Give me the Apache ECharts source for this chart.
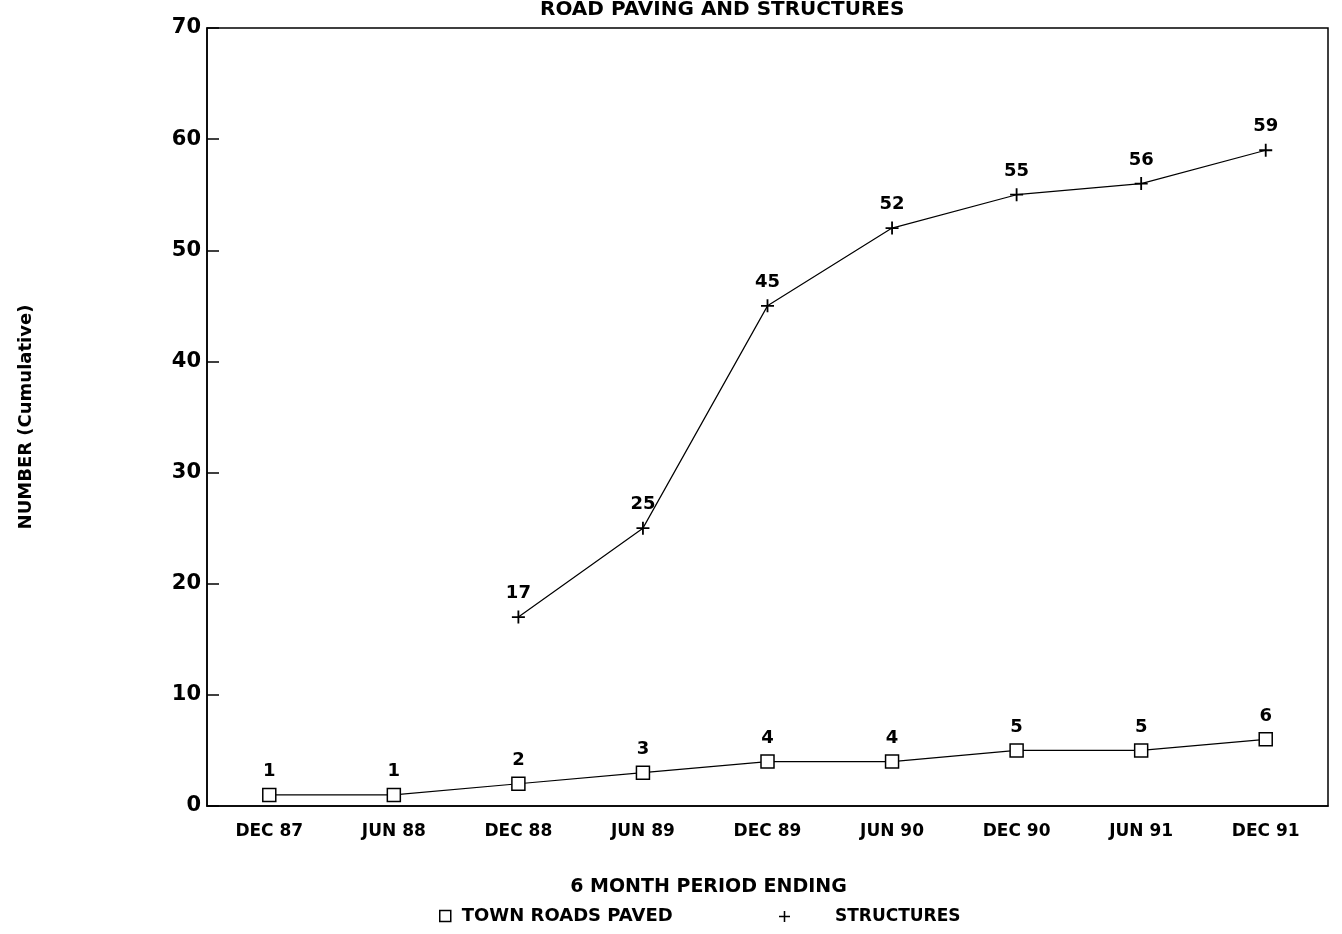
<!DOCTYPE html>
<html>
  <head>
    <meta charset="utf-8" />
    <title>Road Paving and Structures</title>
    <script src="https://cdn.jsdelivr.net/npm/echarts@6/dist/echarts.min.js"></script>
    <style>
      html, body { margin: 0; padding: 0; background: #fff; }
    </style>
  </head>
  <body>
    <div id="container" style="width: 1342px;height: 934px;"></div>

    <script type="text/javascript">
    // 数据
    var periods = ['DEC 87', 'JUN 88', 'DEC 88', 'JUN 89', 'DEC 89', 'JUN 90', 'DEC 90', 'JUN 91', 'DEC 91'];
    var townRoads = [1, 1, 2, 3, 4, 4, 5, 5, 6];
    var structures = [null, null, 17, 25, 45, 52, 55, 56, 59];
    var yTicks = ['0', '10', '20', '30', '40', '50', '60', '70'];

    var font = '"DejaVu Sans", "Liberation Sans", Arial, sans-serif';
    var plusSymbol = 'path://M4.3,0H5.7V4.3H10V5.7H5.7V10H4.3V5.7H0V4.3H4.3Z';

    var myChart = echarts.init(document.getElementById('container'));
    var option = {
        backgroundColor: '#fff',
        animation: false,
        textStyle: { fontFamily: font, color: '#000' },
        title: {
            text: 'ROAD PAVING AND STRUCTURES',
            left: 535,
            top: -5,
            textStyle: { fontSize: 20, fontWeight: 'bold', color: '#000', fontFamily: font }
        },
        grid: {
            left: 207,
            right: 14,
            top: 28,
            bottom: 128,
            show: true,
            borderColor: '#000',
            borderWidth: 1.5
        },
        // 图例（两个分开放置）
        legend: [
            {
                bottom: 4,
                left: 434,
                itemWidth: 11,
                itemHeight: 11,
                textStyle: { fontSize: 18, fontWeight: 'bold', color: '#000', fontFamily: font, padding: [0, 0, 0, 6] },
                data: [{ name: 'TOWN ROADS PAVED', icon: 'rect',
                         itemStyle: { color: '#fff', borderColor: '#000', borderWidth: 1.5 } }]
            },
            {
                bottom: 4,
                left: 774,
                itemWidth: 11,
                itemHeight: 11,
                textStyle: { fontSize: 17, fontWeight: 'bold', color: '#000', fontFamily: font, padding: [0, 0, 0, 40] },
                data: [{ name: 'STRUCTURES', icon: plusSymbol,
                         itemStyle: { color: '#000', borderWidth: 0 } }]
            }
        ],
        xAxis: {
            type: 'category',
            data: periods,
            boundaryGap: true,
            name: '6 MONTH PERIOD ENDING',
            nameLocation: 'middle',
            nameGap: 72,
            nameTextStyle: { fontSize: 19, fontWeight: 'bold', color: '#000', fontFamily: font, padding: [0, 118, 0, 0] },
            axisLine: { lineStyle: { color: '#000', width: 1.5 } },
            axisTick: { inside: true, alignWithLabel: true, length: 10, lineStyle: { color: '#000', width: 1.5 } },
            axisLabel: { fontSize: 17, fontWeight: 'bold', color: '#000', margin: 17, fontFamily: font },
            splitLine: { show: false }
        },
        yAxis: {
            type: 'value',
            min: 0,
            max: 70,
            interval: 10,
            name: 'NUMBER (Cumulative)',
            nameLocation: 'middle',
            nameGap: 172,
            nameRotate: 90,
            nameTextStyle: { fontSize: 18, fontWeight: 'bold', color: '#000', fontFamily: font },
            axisLine: { show: true, lineStyle: { color: '#000', width: 1.5 } },
            axisTick: { show: true, inside: true, length: 12, lineStyle: { color: '#000', width: 1.5 } },
            axisLabel: {
                fontSize: 21, fontWeight: 'bold', color: '#000', margin: 6, fontFamily: font,
                formatter: function (v) { return yTicks[v / 10]; }
            },
            splitLine: { show: false }
        },
        series: [
            {
                name: 'TOWN ROADS PAVED',
                type: 'line',
                data: townRoads,
                symbol: 'rect',
                symbolSize: 13,
                showAllSymbol: true,
                lineStyle: { color: '#000', width: 1.2 },
                itemStyle: { color: '#fff', borderColor: '#000', borderWidth: 1.5 },
                label: {
                    show: true, position: 'top', distance: 7,
                    fontSize: 18, fontWeight: 'bold', color: '#000', fontFamily: font
                }
            },
            {
                name: 'STRUCTURES',
                type: 'line',
                data: structures,
                symbol: plusSymbol,
                symbolSize: 13,
                showAllSymbol: true,
                lineStyle: { color: '#000', width: 1.2 },
                itemStyle: { color: '#000', borderWidth: 0 },
                label: {
                    show: true, position: 'top', distance: 8,
                    fontSize: 18, fontWeight: 'bold', color: '#000', fontFamily: font
                }
            }
        ]
    };
    myChart.setOption(option);

    window.addEventListener('resize', myChart.resize);
    </script>
  </body>
</html>
